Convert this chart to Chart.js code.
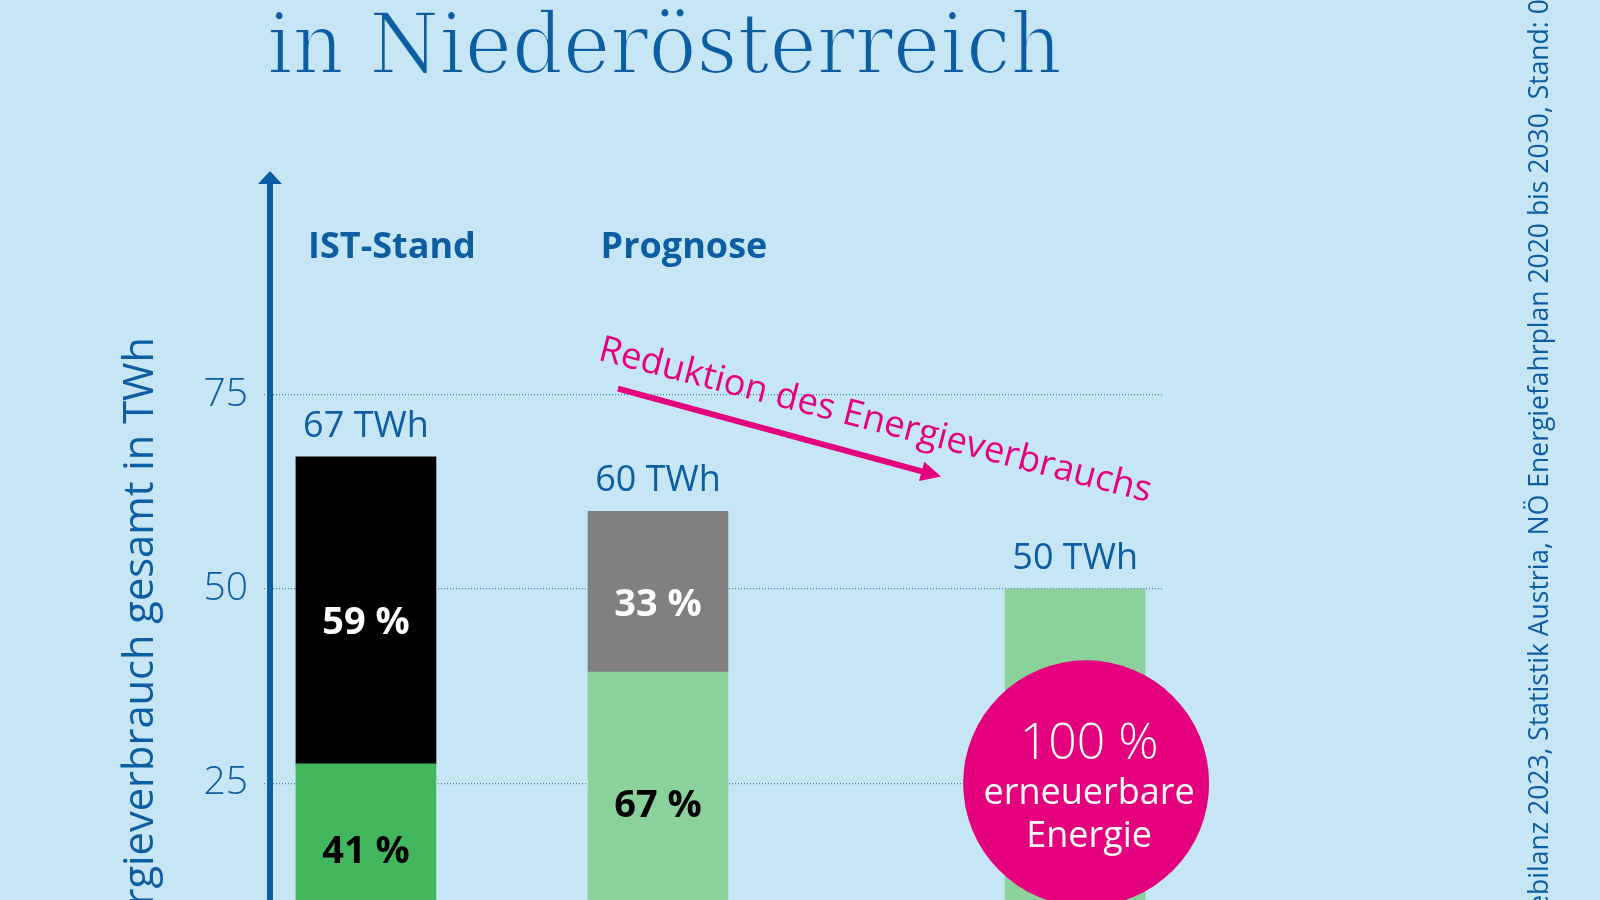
<!DOCTYPE html>
<html lang="de">
<head>
<meta charset="utf-8">
<title>Energieverbrauch in Niederösterreich</title>
<script src="https://cdn.jsdelivr.net/npm/chart.js@4.4.1/dist/chart.umd.min.js"></script>
<style>
  html, body { margin: 0; padding: 0; background: #c7e6f5; overflow: hidden; }
  canvas { display: block; }
</style>
</head>
<body>
<canvas id="energieChart" width="1600" height="900"></canvas>
<script>
// Farben
const colors = {
  background: "#c7e6f5",
  blue: "#0c5da2",
  grid: "#3f7fbe",
  pink: "#e5007e",
  greenDark: "#43b75d",
  greenLight: "#8bd19b",
  gray: "#808080",
  black: "#000000",
  white: "#ffffff",
};

// Daten
const titel = "in Niederösterreich";
const jahre = [2023, 2030, 2040];
const kopfzeilen = ["IST-Stand", "Prognose", ""];
const erneuerbar = [27.5, 39.3, 50];
const fossil = [39.5, 20.7, 0];
const anteilErneuerbar = ["41 %", "67 %", ""];
const anteilFossil = ["59 %", "33 %", ""];
const yTicks = [25, 50, 75];
const achsenTitel = "Energieverbrauch gesamt in TWh";
const pfeilText = "Reduktion des Energieverbrauchs";
const kreisText = ["100 %", "erneuerbare", "Energie"];
const quelle = "Quelle: Energiebilanz 2023, Statistik Austria, NÖ Energiefahrplan 2020 bis 2030, Stand: 0";

Chart.defaults.font.family = '"Open Sans", sans-serif';

// Hintergrund
const hintergrundPlugin = {
  id: "hintergrund",
  beforeDraw(chart) {
    const { ctx, width, height } = chart;
    ctx.save();
    ctx.fillStyle = colors.background;
    ctx.fillRect(0, 0, width, height);
    ctx.restore();
  },
};

// Texte, Pfeile und Kreis
const dekoPlugin = {
  id: "deko",
  afterDraw(chart) {
    const { ctx, chartArea } = chart;
    const yScale = chart.scales.y;
    const metaErn = chart.getDatasetMeta(0);
    const metaFos = chart.getDatasetMeta(1);
    ctx.save();

    // Titel (etwas duenner nachgezogen)
    ctx.fillStyle = colors.blue;
    ctx.font = '84px "DejaVu Serif"';
    ctx.textAlign = "left";
    ctx.textBaseline = "alphabetic";
    const tw = ctx.measureText(titel).width;
    ctx.save();
    ctx.translate(267, 73);
    ctx.scale(795 / tw, 1);
    ctx.fillText(titel, 0, 0);
    ctx.strokeStyle = colors.background;
    ctx.lineWidth = 2.2;
    ctx.strokeText(titel, 0, 0);
    ctx.restore();

    // Pfeilspitze y-Achse
    const ax = yScale.right;
    ctx.beginPath();
    ctx.moveTo(ax, chartArea.top - 9);
    ctx.lineTo(ax - 12, chartArea.top + 4);
    ctx.lineTo(ax + 12, chartArea.top + 4);
    ctx.closePath();
    ctx.fill();

    // Achsentitel
    ctx.save();
    ctx.translate(153, 337);
    ctx.rotate(-Math.PI / 2);
    ctx.font = '400 39px "Open Sans"';
    const aw = ctx.measureText("rgieverbrauch gesamt in TWh").width;
    ctx.font = `400 ${(39 * 568 / aw).toFixed(1)}px "Open Sans"`;
    ctx.textAlign = "right";
    ctx.fillText(achsenTitel, 0, 0);
    ctx.restore();

    // Kopfzeilen, Summen und Anteile
    for (let i = 0; i < jahre.length; i++) {
      const ern = metaErn.data[i];
      const fos = metaFos.data[i];
      const top = Math.min(ern.y, fos.y);

      if (kopfzeilen[i]) {
        ctx.font = '700 36px "Open Sans"';
        ctx.textAlign = "center";
        ctx.textBaseline = "middle";
        ctx.fillStyle = colors.blue;
        ctx.fillText(kopfzeilen[i], ern.x + 26, 248);
      }

      ctx.font = '400 36px "Open Sans"';
      ctx.textAlign = "center";
      ctx.textBaseline = "middle";
      ctx.fillStyle = colors.blue;
      ctx.fillText(`${Math.round(erneuerbar[i] + fossil[i])} TWh`, ern.x, top - 30);

      ctx.font = '700 38px "Open Sans"';
      if (anteilFossil[i]) {
        ctx.fillStyle = colors.white;
        ctx.fillText(anteilFossil[i], fos.x, (fos.y + fos.base) / 2 + 13);
      }
      if (anteilErneuerbar[i]) {
        const unten = Math.min(ern.base, chartArea.bottom);
        ctx.fillStyle = colors.black;
        ctx.fillText(anteilErneuerbar[i], ern.x, (ern.y + unten) / 2 + 20);
      }
    }

    // Pfeil "Reduktion"
    const b2 = metaFos.data[1];
    const y75 = yScale.getPixelForValue(75);
    const sx = b2.x - 40, sy = y75 - 6;
    const ex = b2.x + 283, ey = y75 + 82;
    const ang = Math.atan2(ey - sy, ex - sx);
    ctx.strokeStyle = colors.pink;
    ctx.fillStyle = colors.pink;
    ctx.lineWidth = 6;
    ctx.beginPath();
    ctx.moveTo(sx, sy);
    ctx.lineTo(ex - 14 * Math.cos(ang), ey - 14 * Math.sin(ang));
    ctx.stroke();
    ctx.save();
    ctx.translate(ex, ey);
    ctx.rotate(ang);
    ctx.beginPath();
    ctx.moveTo(0, 0);
    ctx.lineTo(-20, -10);
    ctx.lineTo(-20, 10);
    ctx.closePath();
    ctx.fill();
    ctx.restore();

    ctx.save();
    ctx.translate(sx - 21, sy - 29);
    ctx.rotate(14.5 * Math.PI / 180);
    ctx.font = '400 36px "Open Sans"';
    const pw = ctx.measureText(pfeilText).width;
    ctx.font = `400 ${(36 * 570 / pw).toFixed(1)}px "Open Sans"`;
    ctx.textAlign = "left";
    ctx.textBaseline = "alphabetic";
    ctx.fillText(pfeilText, 0, 0);
    ctx.restore();

    // Kreis
    const b3 = metaErn.data[2];
    const cx = b3.x + 11;
    const cy = yScale.getPixelForValue(25);
    ctx.fillStyle = colors.pink;
    ctx.beginPath();
    ctx.arc(cx, cy, 123, 0, Math.PI * 2);
    ctx.fill();
    ctx.fillStyle = colors.white;
    ctx.textAlign = "center";
    ctx.textBaseline = "alphabetic";
    ctx.font = '300 50px "Open Sans"';
    ctx.fillText(kreisText[0], cx + 3, cy - 24);
    ctx.font = '400 36px "Open Sans"';
    ctx.fillText(kreisText[1], cx + 3, cy + 21);
    ctx.fillText(kreisText[2], cx + 3, cy + 64);

    // Quelle
    ctx.save();
    ctx.font = '400 26px "Open Sans"';
    const teil = "2023, Statistik Austria, NÖ Energiefahrplan 2020 bis 2030, ";
    const fs = 26 * 715 / ctx.measureText(teil).width;
    ctx.font = `400 ${fs.toFixed(1)}px "Open Sans"`;
    const vor = ctx.measureText("Quelle: Energiebilanz ").width;
    ctx.translate(1548, 815 + vor);
    ctx.rotate(-Math.PI / 2);
    ctx.fillStyle = colors.blue;
    ctx.textAlign = "left";
    ctx.fillText(quelle, 0, 0);
    ctx.restore();

    ctx.restore();
  },
};

const ctx = document.getElementById("energieChart").getContext("2d");
new Chart(ctx, {
  type: "bar",
  data: {
    labels: jahre,
    datasets: [
      {
        label: "erneuerbar",
        data: erneuerbar,
        backgroundColor: [colors.greenDark, colors.greenLight, colors.greenLight],
        barThickness: 140,
      },
      {
        label: "fossil",
        data: fossil,
        backgroundColor: [colors.black, colors.gray, colors.gray],
        barThickness: 140,
      },
    ],
  },
  options: {
    responsive: false,
    devicePixelRatio: 1,
    animation: false,
    layout: { autoPadding: false, padding: { left: 0, right: 436, top: 180, bottom: 0 } },
    plugins: {
      legend: { display: false },
      tooltip: { enabled: false },
    },
    scales: {
      x: { type: "linear", stacked: true, offset: false, min: 2020.7, max: 2042.13, display: false },
      y: {
        stacked: true,
        min: 10,
        max: 102.6,
        afterFit: (scale) => {
          scale.width = 270;
          scale.paddingTop = 0;
          scale.paddingBottom = 0;
        },
        afterBuildTicks: (scale) => { scale.ticks = yTicks.map((v) => ({ value: v })); },
        grid: {
          color: colors.grid,
          lineWidth: 1.2,
          tickLength: 6,
          tickColor: colors.grid,
          tickBorderDash: [1, 2],
        },
        border: { display: true, color: colors.blue, width: 6, dash: [1, 2] },
        ticks: {
          padding: 16,
          color: colors.blue,
          font: { size: 39, weight: "300" },
        },
      },
    },
  },
  plugins: [hintergrundPlugin, dekoPlugin],
});
</script>
</body>
</html>
